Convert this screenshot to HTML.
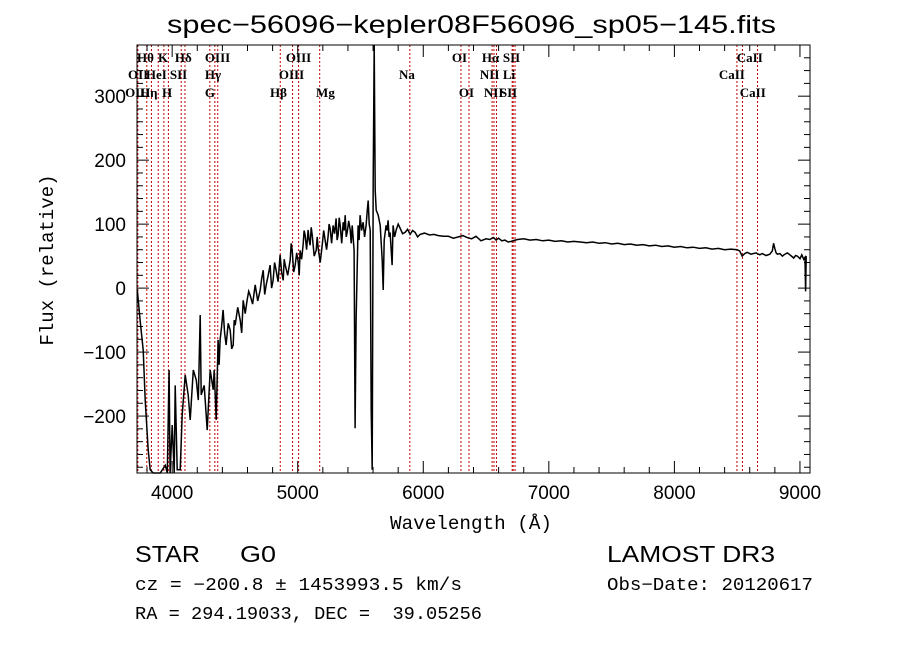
<!DOCTYPE html>
<html><head><meta charset="utf-8"><style>
body{margin:0;background:#fff;width:900px;height:649px;overflow:hidden}
svg text{fill:#000}
</style></head><body>
<svg id="chart" width="900" height="649" viewBox="0 0 900 649" xmlns="http://www.w3.org/2000/svg">
<rect width="900" height="649" fill="#fff"/>
<text x="167" y="33" font-family="Liberation Sans, sans-serif" font-size="25" textLength="609" lengthAdjust="spacingAndGlyphs">spec−56096−kepler08F56096_sp05−145.fits</text>
<g id="lines"></g>
<g id="labels" font-family="Liberation Serif, serif" font-size="13" font-weight="bold"></g>
<g id="series"></g>
<g id="axes"></g>
<text x="390" y="529" font-family="Liberation Mono, monospace" font-size="19" textLength="162" lengthAdjust="spacingAndGlyphs">Wavelength (Å)</text>
<text transform="translate(53,260) rotate(-90)" font-family="Liberation Mono, monospace" font-size="19" text-anchor="middle">Flux (relative)</text>
<text x="135" y="562" font-family="Liberation Sans, sans-serif" font-size="23" textLength="65" lengthAdjust="spacingAndGlyphs">STAR</text>
<text x="240" y="562" font-family="Liberation Sans, sans-serif" font-size="23" textLength="36" lengthAdjust="spacingAndGlyphs">G0</text>
<text x="607" y="562" font-family="Liberation Sans, sans-serif" font-size="23" textLength="168" lengthAdjust="spacingAndGlyphs">LAMOST DR3</text>
<text x="135" y="590" font-family="Liberation Mono, monospace" font-size="18" textLength="327" lengthAdjust="spacingAndGlyphs">cz = −200.8 ± 1453993.5 km/s</text>
<text x="607" y="590" font-family="Liberation Mono, monospace" font-size="18" textLength="206" lengthAdjust="spacingAndGlyphs">Obs−Date: 20120617</text>
<text x="135" y="619" font-family="Liberation Mono, monospace" font-size="18" xml:space="preserve" textLength="347" lengthAdjust="spacingAndGlyphs">RA = 294.19033, DEC =  39.05256</text>
</svg>
<script>
const wavelengths=[3722,3745,3769,3785,3809,3825,3849,3905,3945,3961,3976,3984,4000,4016,4024,4040,4064,4080,4104,4128,4144,4168,4192,4208,4223,4231,4255,4279,4303,4327,4335,4351,4366,4374,4382,4394,4406,4418,4430,4446,4462,4474,4486,4494,4502,4522,4542,4554,4566,4582,4597,4610,4621,4641,4661,4681,4701,4713,4725,4737,4749,4765,4780,4792,4804,4816,4828,4844,4860,4872,4884,4892,4900,4920,4940,4948,4956,4968,4980,4992,5004,5012,5019,5031,5043,5051,5059,5071,5083,5091,5099,5107,5115,5131,5147,5155,5163,5179,5195,5207,5218,5230,5242,5250,5258,5270,5282,5294,5306,5314,5322,5330,5338,5350,5362,5370,5378,5386,5394,5406,5418,5426,5434,5449,5457,5465,5481,5489,5497,5509,5521,5533,5545,5553,5561,5569,5577,5585,5593,5601,5609,5617,5625,5641,5657,5673,5681,5689,5704,5712,5720,5728,5736,5752,5760,5772,5784,5800,5815,5835,5855,5875,5895,5915,5935,5955,
5975,6010,6050,6085,6120,6160,6200,6240,6280,6315,6350,6385,6420,6460,6500,6530,6560,6580,6600,6625,6650,6675,6700,
6750,6800,6850,6900,6950,7000,7050,7100,7150,7200,7250,7300,7350,7400,7450,7500,7550,7600,7650,7700,7750,7800,7850,7900,7950,8000,8050,8100,8150,8200,8250,8300,8350,8400,8450,8500,
8520,8540,8560,8580,8610,8650,8680,8700,8730,8760,8780,8790,8800,8810,8820,8840,8860,8880,8900,8920,8950,8965,8980,9000,9015,9030,9040,9045,9050];
const fluxes=[-3,-50,-97,-175,-253,-284,-289,-289,-277,-289,-128,-289,-214,-289,-152,-284,-284,-198,-136,-167,-206,-128,-144,-175,-42,-167,-152,-222,-128,-159,-128,-206,-81,-120,-81,-60,-34,-70,-89,-55,-66,-95,-89,-50,-58,-30,-50,-70,-19,-40,-19,-5,-11,-25,5,-20,-3,15,28,-10,5,20,36,0,12,40,28,10,52,25,12,45,36,20,44,70,59,25,36,55,41,20,59,45,67,90,83,60,91,75,67,95,83,50,59,80,62,40,67,90,75,60,81,100,94,70,98,85,109,75,83,110,98,70,103,90,114,80,87,105,91,70,98,59,-219,-50,98,75,114,90,103,80,98,120,137,100,91,-191,-284,169,380,153,122,114,98,44,-3,75,98,90,106,80,87,36,98,80,91,100,94,85,87,92,84,90,87,80,
84,86,83,84,82,81,81,78,80,82,79,77,81,74,77,76,79,75,78,74,75,72,73,
76,77,75,76,74,75,73,74,72,73,72,71,72,70,71,69,70,68,69,67,68,66,67,65,66,64,65,63,64,62,63,61,62,60,61,60,
58,50,54,56,53,55,52,54,51,53,58,70,62,55,53,54,50,53,55,52,47,51,50,46,52,45,48,-5,50];
const lineWaves=[3727,3798,3835,3889,3934,3970,4072,4102,4300,4340,4363,4861,4959,5007,5175,5893,6300,6364,6548,6563,6583,6708,6716,6731,8498,8542,8662];
const labelText=["Hθ","K","Hδ","OIII","OIII","OI","Hα","SII","CaII","OII","HeI","SII","Hγ","OIII","Na","NII","Li","CaII","OIII","Hη","H","G","Hβ","Mg","OI","NII","SII","CaII"];
const labelWaves=[3720,3887,4022,4261,4906,6228,6467,6634,8497,3648,3791,3982,4261,4850,5807,6451,6634,8354,3625,3744,3919,4261,4779,5146,6284,6483,6610,8521];
const labelRows=[0,0,0,0,0,0,0,0,0,1,1,1,1,1,1,1,1,1,2,2,2,2,2,2,2,2,2,2];
const xTicks=[4000,5000,6000,7000,8000,9000];
const yTicks=[-200,-100,0,100,200,300];
const X0=137,X1=810,Y0=45,Y1=473,WMIN=3720,WMAX=9080,FMIN=-289,FMAX=380;
const sx=w=>X0+(w-WMIN)/(WMAX-WMIN)*(X1-X0);
const sy=f=>Y1-(f-FMIN)/(FMAX-FMIN)*(Y1-Y0);
const NS='http://www.w3.org/2000/svg';
function mk(t,a,p){const e=document.createElementNS(NS,t);for(const k in a)e.setAttribute(k,a[k]);p.appendChild(e);return e;}
const gl=document.getElementById('lines');
lineWaves.forEach(w=>{const l=mk('line',{x1:sx(w),x2:sx(w),y1:Y0,y2:Y1,stroke:'#c00000','stroke-width':1,'stroke-dasharray':'2,2'},gl);

});
const glb=document.getElementById('labels');
const rowY=[62,79,97];
labelText.forEach((t,i)=>{const e=mk('text',{x:sx(labelWaves[i]),y:rowY[labelRows[i]]},glb);e.textContent=t;

});
const gs=document.getElementById('series');
const n=Math.min(wavelengths.length,fluxes.length);
const pts=[];for(let i=0;i<n;i++)pts.push(sx(wavelengths[i]).toFixed(1)+','+Math.max(Y0,Math.min(Y1,sy(fluxes[i]))).toFixed(1));
const p=mk('polyline',{points:pts.join(' '),fill:'none',stroke:'#000','stroke-width':1.5},gs);


const ga=document.getElementById('axes');
const fr=mk('rect',{x:X0,y:Y0,width:X1-X0,height:Y1-Y0,fill:'none',stroke:'#000','stroke-width':1},ga);


for(let w=3800;w<=9000;w+=200){const maj=w%1000===0,len=maj?12:6;
mk('line',{x1:sx(w),x2:sx(w),y1:Y1,y2:Y1-len,stroke:'#000'},ga);
mk('line',{x1:sx(w),x2:sx(w),y1:Y0,y2:Y0+len,stroke:'#000'},ga);}
for(let f=-280;f<=370;f+=20){const maj=f%100===0,len=maj?12:6;
mk('line',{x1:X0,x2:X0+len,y1:sy(f),y2:sy(f),stroke:'#000'},ga);
mk('line',{x1:X1,x2:X1-len,y1:sy(f),y2:sy(f),stroke:'#000'},ga);}
xTicks.forEach(w=>{const t=mk('text',{x:sx(w),y:Y1+26,'font-family':'Liberation Sans, sans-serif','font-size':19,'text-anchor':'middle'},ga);t.textContent=w;

});
yTicks.forEach(f=>{const t=mk('text',{x:X0-11,y:sy(f)+7,'font-family':'Liberation Sans, sans-serif','font-size':19,'text-anchor':'end'},ga);t.textContent=f<0?'−'+(-f):f;

});
</script>
</body></html>
